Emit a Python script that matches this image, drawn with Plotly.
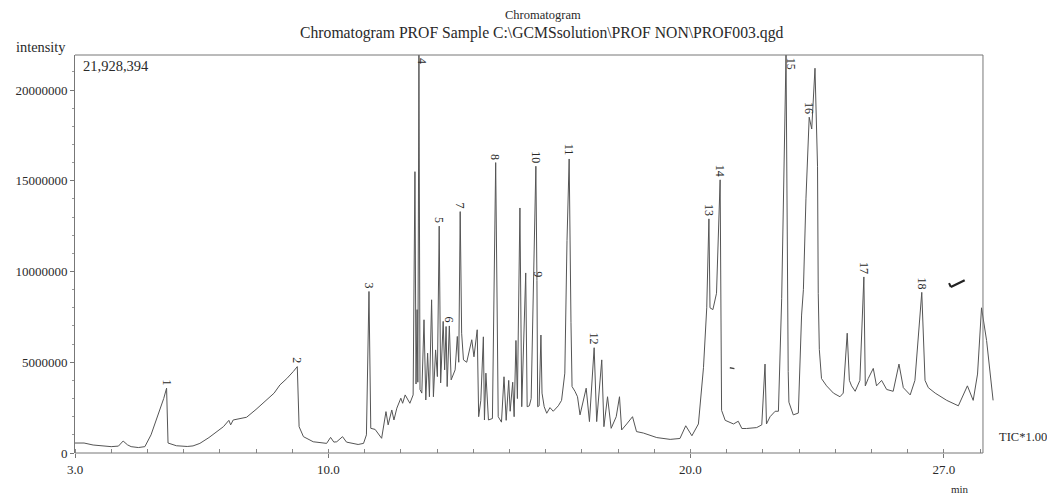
import plotly.graph_objects as go

# ---- data (retention time in min, intensity in counts) ----
rt_min = [
    3.00, 3.25, 3.50, 3.75, 4.00, 4.20, 4.33, 4.45, 4.55, 4.75, 4.93, 5.10, 5.30, 5.45, 5.53, 5.57,
    5.80, 6.10, 6.26, 6.45, 6.70, 6.91, 7.10, 7.25, 7.30, 7.37, 7.55, 7.74, 8.00, 8.30, 8.50, 8.66,
    8.85, 9.03, 9.14, 9.19, 9.31, 9.58, 9.95, 10.06, 10.15, 10.23, 10.39, 10.50, 10.82, 10.97,
    11.05, 11.12, 11.17, 11.29, 11.47, 11.59, 11.65, 11.75, 11.81, 11.89, 12.00, 12.05, 12.12,
    12.25, 12.31, 12.34, 12.39, 12.42, 12.45, 12.47, 12.50, 12.53, 12.58, 12.64, 12.69, 12.74,
    12.79, 12.85, 12.90, 12.96, 13.01, 13.06, 13.10, 13.17, 13.21, 13.25, 13.28, 13.34, 13.39,
    13.50, 13.56, 13.60, 13.64, 13.68, 13.73, 13.82, 13.96, 14.02, 14.11, 14.15, 14.21, 14.28,
    14.31, 14.35, 14.42, 14.53, 14.62, 14.69, 14.78, 14.85, 14.91, 14.98, 15.02, 15.09, 15.13,
    15.18, 15.22, 15.29, 15.34, 15.45, 15.49, 15.55, 15.60, 15.73, 15.76, 15.78, 15.82, 15.87,
    15.90, 15.96, 16.03, 16.12, 16.21, 16.35, 16.44, 16.53, 16.59, 16.65, 16.70, 16.73, 16.81,
    16.88, 16.95, 17.05, 17.12, 17.21, 17.34, 17.41, 17.55, 17.61, 17.71, 17.81, 17.95, 18.04,
    18.10, 18.24, 18.40, 18.51, 18.70, 19.07, 19.44, 19.71, 19.87, 20.04, 20.22, 20.36, 20.45,
    20.51, 20.54, 20.62, 20.72, 20.82, 20.85, 20.86, 20.96, 21.19, 21.32, 21.42, 21.55, 21.83,
    21.97, 22.06, 22.10, 22.20, 22.34, 22.43, 22.52, 22.64, 22.70, 22.72, 22.84, 22.98, 23.07,
    23.12, 23.19, 23.28, 23.35, 23.44, 23.51, 23.53, 23.56, 23.62, 23.76, 23.95, 24.13, 24.22,
    24.33, 24.39, 24.45, 24.55, 24.68, 24.79, 24.83, 24.91, 25.05, 25.14, 25.28, 25.42, 25.60,
    25.76, 25.88, 26.07, 26.20, 26.39, 26.48, 26.57, 26.76, 27.08, 27.40, 27.65, 27.81, 27.93,
    28.04, 28.18, 28.36,
]
intensity = [
    0.55e6, 0.55e6, 0.44e6, 0.40e6, 0.35e6, 0.38e6, 0.66e6, 0.45e6, 0.35e6, 0.30e6, 0.35e6, 1.0e6,
    2.1e6, 3.0e6, 3.57e6, 0.55e6, 0.40e6, 0.36e6, 0.39e6, 0.53e6, 0.85e6, 1.18e6, 1.45e6, 1.8e6,
    1.55e6, 1.82e6, 1.9e6, 1.97e6, 2.4e6, 2.92e6, 3.3e6, 3.75e6, 4.1e6, 4.49e6, 4.76e6, 1.45e6,
    0.90e6, 0.62e6, 0.53e6, 0.86e6, 0.60e6, 0.62e6, 0.90e6, 0.60e6, 0.47e6, 0.53e6,
    1.0e6, 8.9e6, 1.36e6, 1.3e6, 0.81e6, 2.28e6, 1.55e6, 2.37e6, 1.82e6, 2.47e6, 3.02e6, 2.74e6,
    3.2e6, 2.74e6, 3.0e6, 3.2e6, 15.5e6, 3.8e6, 7.9e6, 3.9e6, 21928394, 3.5e6, 3.3e6, 7.34e6,
    2.92e6, 5.5e6, 3.1e6, 8.44e6, 3.1e6, 5.68e6, 4.21e6, 12.5e6, 3.86e6, 7.25e6, 4.58e6, 6.97e6,
    3.66e6, 7.0e6, 4.03e6, 4.58e6, 6.42e6, 5.0e6, 13.3e6, 6.6e6, 5.13e6, 5.0e6, 6.24e6, 5.3e6,
    6.79e6, 2.0e6, 2.9e6, 6.4e6, 1.82e6, 4.4e6, 1.82e6, 1.9e6, 16.0e6, 2.0e6, 1.7e6, 4.2e6,
    1.8e6, 4.0e6, 2.3e6, 3.9e6, 2.0e6, 6.2e6, 3.0e6, 13.5e6, 2.55e6, 9.92e6, 2.55e6, 2.6e6,
    3.0e6, 15.8e6, 9.5e6, 2.55e6, 2.6e6, 6.5e6, 3.3e6, 2.55e6, 2.19e6, 2.5e6, 2.3e6, 2.6e6,
    2.9e6, 4.4e6, 11.7e6, 16.2e6, 7.2e6, 3.66e6, 3.4e6, 3.1e6, 2.1e6, 3.0e6, 3.57e6, 1.73e6,
    5.8e6, 1.73e6, 5.13e6, 1.45e6, 3.1e6, 1.36e6, 2.0e6, 3.1e6, 1.27e6, 1.6e6, 2.0e6, 1.18e6,
    1.1e6, 0.85e6, 0.75e6, 0.8e6, 1.5e6, 0.95e6, 1.6e6, 4.7e6, 8.0e6, 12.9e6, 8.0e6, 7.9e6,
    8.8e6, 15.05e6, 4.7e6, 2.35e6, 1.8e6, 1.6e6, 1.75e6, 1.35e6, 1.35e6, 1.4e6, 1.55e6, 4.9e6,
    1.6e6, 2.0e6, 2.3e6, 2.3e6, 8.5e6, 21928394, 4.5e6, 2.8e6, 2.1e6, 2.2e6, 7.6e6, 9.0e6,
    14.0e6, 18.5e6, 17.85e6, 21.2e6, 15.8e6, 8.8e6, 5.7e6, 4.1e6, 3.7e6, 3.3e6, 3.1e6, 3.3e6,
    6.6e6, 4.0e6, 3.7e6, 3.4e6, 4.0e6, 9.7e6, 3.7e6, 4.1e6, 4.66e6, 3.7e6, 4.0e6, 3.5e6, 3.4e6,
    4.9e6, 3.6e6, 3.2e6, 4.0e6, 8.85e6, 4.0e6, 3.6e6, 3.3e6, 2.9e6, 2.6e6, 3.7e6, 2.9e6, 4.35e6,
    8.0e6, 6.2e6, 2.9e6,
]

peak_numbers = ["1", "2", "3", "4", "5", "6", "7", "8", "9", "10", "11", "12", "13", "14",
                "15", "16", "17", "18"]
peak_rt = [5.53, 9.14, 11.12, 12.50, 13.06, 13.34, 13.64, 14.62, 15.80, 15.73, 16.65, 17.34,
           20.51, 20.82, 22.70, 23.28, 24.79, 26.39]
peak_height = [3.57e6, 4.76e6, 8.9e6, 21928394, 12.5e6, 7.0e6, 13.3e6, 16.0e6, 9.5e6, 15.8e6,
               16.2e6, 5.8e6, 12.9e6, 15.05e6, 21928394, 18.5e6, 9.7e6, 8.85e6]

max_intensity = 21928394
y_tick_vals = [0, 5000000, 10000000, 15000000, 20000000]
y_tick_text = ["0", "5000000", "10000000", "15000000", "20000000"]
x_tick_vals = [3.0, 10.0, 20.0, 27.0]
x_tick_text = ["3.0", "10.0", "20.0", "27.0"]
frame_end_min = 28.08

FONT = "Liberation Serif"
INK = "#2a2a2a"
LINE = "#555555"

fig = go.Figure()
fig.add_trace(go.Scatter(x=rt_min, y=intensity, mode="lines",
                         line=dict(color=LINE, width=1), hoverinfo="x+y",
                         showlegend=False))

annotations = []
for lab, t, h in zip(peak_numbers, peak_rt, peak_height):
    clipped = h >= max_intensity
    annotations.append(dict(
        x=t, y=min(h, max_intensity), xref="x", yref="y", text=lab, showarrow=False,
        textangle=90, font=dict(family=FONT, size=12, color=INK),
        xanchor="center", yanchor="top" if clipped else "bottom",
        yshift=-1 if clipped else 1, xshift=3 if clipped else 0))

annotations += [
    dict(text="Chromatogram", x=0.508, y=1.10, xref="paper", yref="paper", showarrow=False,
         font=dict(family=FONT, size=12.5, color=INK), xanchor="center", yanchor="middle"),
    dict(text="Chromatogram PROF Sample C:\\GCMSsolution\\PROF NON\\PROF003.qgd",
         x=0.506, y=1.055, xref="paper", yref="paper", showarrow=False,
         font=dict(family=FONT, size=15.7, color=INK), xanchor="center", yanchor="middle"),
    dict(text="intensity", x=-0.066, y=1.02, xref="paper", yref="paper", showarrow=False,
         font=dict(family=FONT, size=14.4, color=INK), xanchor="left", yanchor="middle"),
    dict(text="21,928,394", x=0.006, y=0.972, xref="paper", yref="paper", showarrow=False,
         font=dict(family=FONT, size=14.5, color=INK), xanchor="left", yanchor="middle"),
    dict(text="TIC*1.00", x=1.001, y=0.04, xref="paper", yref="paper", showarrow=False,
         font=dict(family=FONT, size=12.5, color=INK), xanchor="left", yanchor="middle"),
    dict(text="min", x=0.961, y=-0.09, xref="paper", yref="paper", showarrow=False,
         font=dict(family=FONT, size=11, color=INK), xanchor="center", yanchor="middle"),
]

frame = dict(color="#777777", width=1)
shapes = [
    dict(type="line", xref="x", yref="paper", x0=3.0, x1=frame_end_min, y0=1, y1=1, line=frame),
    dict(type="line", xref="x", yref="paper", x0=frame_end_min, x1=frame_end_min, y0=0, y1=1,
         line=frame),
    dict(type="line", xref="x", yref="paper", x0=3.0, x1=frame_end_min, y0=0, y1=0, line=frame),
    # hand-drawn pen marks on the printout (decoration, not data)
    dict(type="line", xref="paper", yref="paper", x0=0.951, y0=0.417, x1=0.966, y1=0.434,
         line=dict(color="#222222", width=2.2)),
    dict(type="line", xref="paper", yref="paper", x0=0.951, y0=0.417, x1=0.949, y1=0.427,
         line=dict(color="#222222", width=2)),
    dict(type="line", xref="paper", yref="paper", x0=0.711, y0=0.214, x1=0.716, y1=0.212,
         line=dict(color="#444444", width=1.5)),
]

# the page body adds an 8px offset, so the figure is sized to fit the window after it
fig.update_layout(
    width=1047, height=489,
    margin=dict(l=67, r=59, t=47, b=44),
    paper_bgcolor="white", plot_bgcolor="white",
    annotations=annotations, shapes=shapes,
    font=dict(family=FONT, color=INK),
    xaxis=dict(range=[3.0, 28.44], showgrid=False, zeroline=False, showline=False,
               automargin=False,
               tickvals=x_tick_vals, ticktext=x_tick_text, ticks="outside", ticklen=4,
               tickcolor="#777777", tickfont=dict(family=FONT, size=13, color=INK),
               minor=dict(dtick=1, tick0=3, ticks="inside", ticklen=4, tickcolor="#888888")),
    yaxis=dict(range=[0, max_intensity], showgrid=False, zeroline=False, showline=True,
               automargin=False, linecolor="#777777", linewidth=1,
               tickvals=y_tick_vals, ticktext=y_tick_text, ticks="outside", ticklen=4,
               tickcolor="#777777", tickfont=dict(family=FONT, size=13, color=INK),
               minor=dict(dtick=1000000, tick0=0, ticks="outside", ticklen=2,
                          tickcolor="#999999")),
)

fig.write_html("out.html")
